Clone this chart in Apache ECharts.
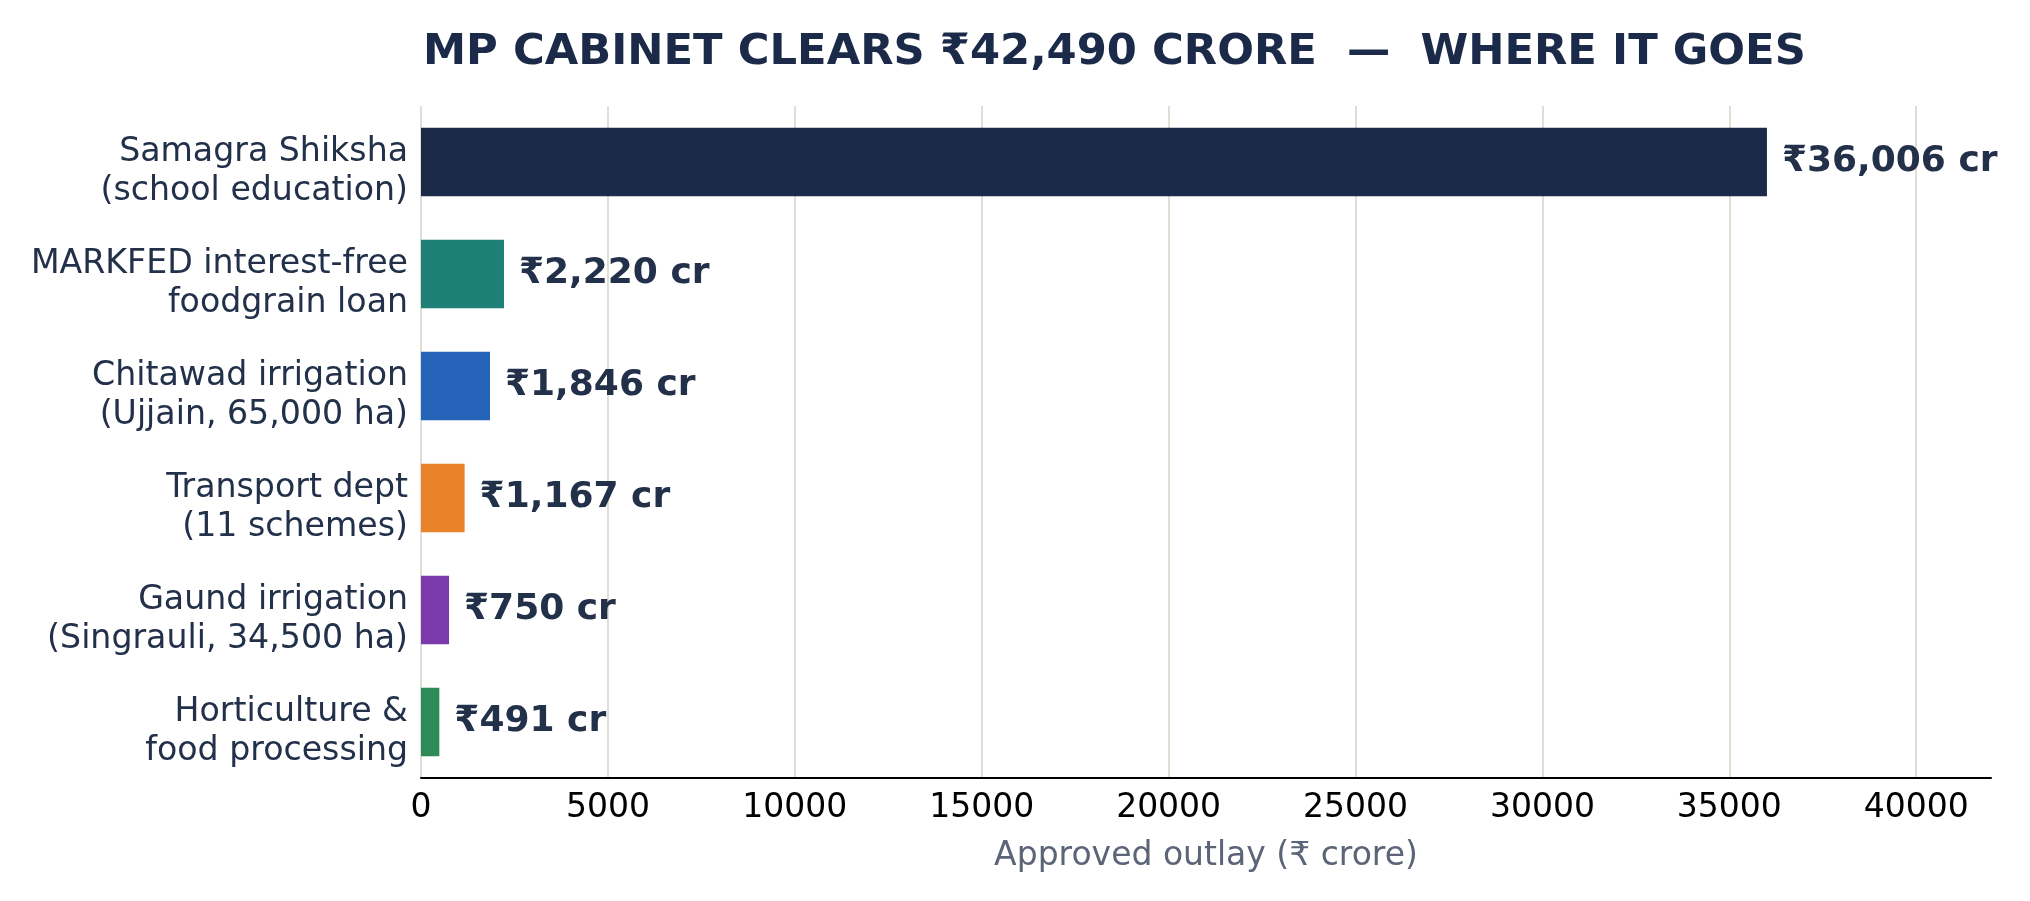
<!DOCTYPE html>
<html>
<head>
<meta charset="utf-8">
<title>MP Cabinet outlay</title>
<script src="https://cdn.jsdelivr.net/npm/echarts@6/dist/echarts.min.js"></script>
<style>
    html, body { margin: 0; padding: 0; background: #ffffff; }
    #chart { width: 2030px; height: 901px; }
</style>
</head>
<body>
<div id="chart"></div>
<script>
// data
var categories = [
    'Samagra Shiksha\n(school education)',
    'MARKFED interest-free\nfoodgrain loan',
    'Chitawad irrigation\n(Ujjain, 65,000 ha)',
    'Transport dept\n(11 schemes)',
    'Gaund irrigation\n(Singrauli, 34,500 ha)',
    'Horticulture &\nfood processing'
];
var outlay = [36006, 2220, 1846, 1167, 750, 491];

// one colour per bar
var barColors = ['#1c2a4a', '#1d7f76', '#2563b8', '#e8832b', '#7b3aab', '#2e8a56'];

var font = 'DejaVu Sans';
var chart = echarts.init(document.getElementById('chart'));

var option = {
    backgroundColor: '#ffffff',
    animation: false,
    title: {
        text: 'MP CABINET CLEARS ₹42,490 CRORE  —  WHERE IT GOES',
        left: 418,
        top: 26,
        textStyle: {
            fontFamily: font,
            fontSize: 43.3,
            fontWeight: 'bold',
            color: '#1c2a4a'
        }
    },
    grid: {
        left: 421,
        right: 39,
        top: 106,
        bottom: 123
    },
    xAxis: {
        type: 'value',
        min: 0,
        max: 42000,
        interval: 5000,
        name: 'Approved outlay (₹ crore)',
        nameLocation: 'middle',
        nameGap: 62,
        nameTextStyle: { fontFamily: font, fontSize: 33, color: '#5b6577' },
        axisLine: { show: true, lineStyle: { color: '#000000', width: 2 } },
        axisTick: { show: false },
        axisLabel: {
            fontFamily: font,
            fontSize: 33,
            color: '#000000',
            margin: 14,
            showMaxLabel: false,
            formatter: function (v) { return String(v); }
        },
        splitLine: {
            show: true,
            showMaxLine: false,
            lineStyle: { color: '#e0dfd3', width: 2 }
        }
    },
    yAxis: {
        type: 'category',
        inverse: true,
        data: categories,
        axisLine: { show: false },
        axisTick: { show: false },
        axisLabel: {
            align: 'right',
            margin: 13,
            // small empty first line pushes the two text lines a bit lower, like the original
            formatter: function (v) {
                return '{sp| }\n' + v.split('\n').map(function (s) {
                    return '{t|' + s + '}';
                }).join('\n');
            },
            rich: {
                sp: { fontSize: 1, lineHeight: 20 },
                t: {
                    fontFamily: font,
                    fontSize: 33.2,
                    lineHeight: 39,
                    color: '#22304a',
                    align: 'right'
                }
            }
        }
    },
    series: [{
        type: 'bar',
        barWidth: '61%',
        data: outlay.map(function (v, i) {
            return { value: v, itemStyle: { color: barColors[i] } };
        }),
        label: {
            show: true,
            position: 'right',
            distance: 15,
            fontFamily: font,
            fontSize: 36,
            fontWeight: 'bold',
            color: '#22304a',
            formatter: function (p) {
                return '₹' + p.value.toLocaleString('en-US') + ' cr';
            }
        }
    }]
};

chart.setOption(option);
</script>
</body>
</html>
